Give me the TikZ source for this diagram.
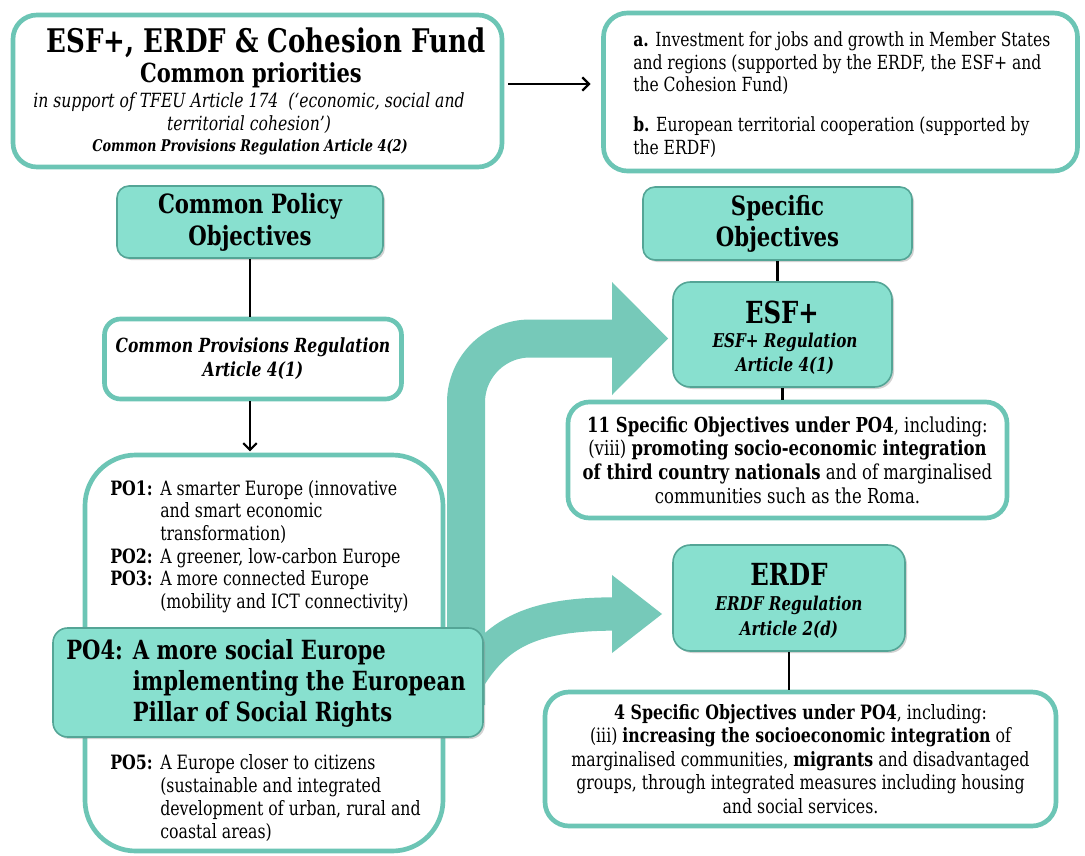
\documentclass[tikz,border=0pt]{standalone}
\usepackage{fontspec}
\setmainfont{DejaVu Serif}[FakeStretch=0.8]
\usetikzlibrary{arrows.meta,shadows}
\definecolor{tline}{RGB}{108,197,181}
\definecolor{tfill}{RGB}{136,224,207}
\definecolor{tdark}{RGB}{84,165,150}
\definecolor{afill}{RGB}{118,201,185}
\newcommand{\fs}[2]{\fontsize{#1}{#2}\selectfont}
\newcommand{\pl}[1]{\makebox[37.5pt][l]{\textbf{#1}}}
\newcommand{\pq}[1]{\makebox[50pt][l]{#1}}
\begin{document}
\begin{tikzpicture}[x=0.75pt,y=-0.75pt,
  sz/.style 2 args={minimum width={#1*0.75pt}, minimum height={#2*0.75pt}},
  wbox/.style={draw=tline, line width=3.5pt, fill=white, inner sep=0pt},
  tbox/.style={draw=tdark, line width=1.2pt, fill=tfill, inner sep=0pt,
    drop shadow={opacity=0.35, shadow xshift=1.5pt, shadow yshift=-1.5pt}},
  txt/.style={inner sep=0pt, align=center},
  ltxt/.style={inner sep=0pt, align=left, anchor=west},
  conn/.style={line width=1.6pt, draw=black},
  arr/.style={conn, -{Straight Barb[length=5pt,width=10pt,line width=1.6pt]}},
  band/.style={draw=afill, line cap=butt},
]
\fill[white] (0,0) rectangle (1085,856);
\useasboundingbox (0,0) rectangle (1085,856);

% top-left box
\node[wbox, sz={489}{152}, rounded corners=18pt] (TL) at (257.5,91) {};
\node[txt, font=\bfseries\fs{24.4}{28}] (tlT) at (266,43) {ESF+, ERDF \& Cohesion Fund};
\node[txt, font=\bfseries\fs{19.7}{22}] (tlC) at (251,75) {Common priorities};
\node[txt, font=\itshape\fs{14.65}{17.25}] (tlI) at (249,113.5) {in support of TFEU Article 174~~(‘economic, social and\\territorial cohesion’)};
\node[txt, font=\bfseries\itshape\fs{12.1}{14}] (tlR) at (250,147) {Common Provisions Regulation Article 4(2)};

% top-right box
\node[wbox, sz={474}{158}, rounded corners=18pt] (TR) at (840.5,92) {};
\node[ltxt, font=\fs{14.6}{17}] (trT) at (633,94.5) {\textbf{a.} Investment for jobs and growth in Member States\\and regions (supported by the ERDF, the ESF+ and\\the Cohesion Fund)\\[12.75pt]\textbf{b.} European territorial cooperation (supported by\\the ERDF)};

\coordinate (y84) at (0,84);
\draw[arr, shorten <=3pt, shorten >=8pt] (TL.east |- y84) -- (TR.west |- y84);

% left column
\node[tbox, sz={266}{72}, rounded corners=9pt, font=\bfseries\fs{19.9}{24}, align=center] (CPO) at (250,222) {Common Policy\\Objectives};
\node[wbox, sz={297}{80}, rounded corners=12pt, font=\bfseries\itshape\fs{14.6}{18}, align=center] (CPR) at (253,359) {Common Provisions Regulation\\Article 4(1)};
\node[wbox, sz={358}{396}, rounded corners=38pt] (POL) at (264,653) {};
\draw[conn] (CPO.south) -- (CPO.south |- CPR.north);
\draw[arr, shorten >=1pt] (CPO.south |- CPR.south) -- (CPO.south |- POL.north);

\node[ltxt, font=\fs{14.8}{17}] (po13) at (110,546.5) {\pl{PO1:}A smarter Europe (innovative\\\pl{}and smart economic\\\pl{}transformation)\\\pl{PO2:}A greener, low-carbon Europe\\\pl{PO3:}A more connected Europe\\\pl{}(mobility and ICT connectivity)};
\node[ltxt, font=\fs{14.8}{17.25}] (po5) at (110,798.5) {\pl{PO5:}A Europe closer to citizens\\\pl{}(sustainable and integrated\\\pl{}development of urban, rural and\\\pl{}coastal areas)};

% right column
\node[tbox, sz={269}{73}, rounded corners=9pt, font=\bfseries\fs{19.9}{23.25}, align=center] (SO) at (777.5,223.5) {Specific\\Objectives};
\node[tbox, sz={219}{105}, rounded corners=13pt] (ESF) at (782.5,334.5) {};
\node[txt, font=\bfseries\fs{22.8}{24}] (esfT) at (782,312) {ESF+};
\node[txt, font=\bfseries\itshape\fs{14.25}{18}] (esfR) at (785,354) {ESF+ Regulation\\Article 4(1)};
\node[wbox, sz={439}{116}, rounded corners=16pt, font=\fs{15.45}{17.8}, align=center] (SO11) at (787.5,460) {\textbf{11 Specific Objectives under PO4}, including:\\(viii) \textbf{promoting socio-economic integration}\\\textbf{of third country nationals} and of marginalised\\communities such as the Roma.};
\node[tbox, sz={232}{106}, rounded corners=13pt] (ERDF) at (789,598) {};
\node[txt, font=\bfseries\fs{22.8}{24}] (erdfT) at (789,574) {ERDF};
\node[txt, font=\bfseries\itshape\fs{14.25}{18.75}] (erdfR) at (789,617.5) {ERDF Regulation\\Article 2(d)};
\node[wbox, sz={511}{134}, rounded corners=18pt, font=\fs{14.8}{17.6}, align=center] (SO4) at (800.5,759) {\textbf{4 Specific Objectives under PO4}, including:\\(iii) \textbf{increasing the socioeconomic integration} of\\marginalised communities, \textbf{migrants} and disadvantaged\\groups, through integrated measures including housing\\and social services.};
\draw[conn] (SO.south) -- (SO.south |- ESF.north);
\draw[conn] (ESF.south) -- (ESF.south |- SO11.north);
\draw[conn] (ERDF.south) -- (ERDF.south |- SO4.north);

% big arrows
\coordinate (u0) at (466,705);
\coordinate (u1) at (614,338.5);
\draw[band, line width=28.5pt, rounded corners=48pt] (u0) |- (u1);
\fill[afill] (612,282) -- (668,338.5) -- (612,395) -- cycle;
\coordinate (l0) at (462,690);
\coordinate (l1) at (614,614);
\draw[band, line width=25pt] (l0) .. controls (490,640) and (520,614) .. (l1);
\fill[afill] (612,575) -- (662,614) -- (612,653) -- cycle;

% PO4 box
\node[tbox, sz={430}{109}, rounded corners=11pt] (PO4) at (268,682.5) {};
\node[ltxt, font=\bfseries\fs{19.8}{23.2}] (po4t) at (66,683) {\pq{PO4:}A more social Europe\\\pq{}implementing the European\\\pq{}Pillar of Social Rights};
\end{tikzpicture}
\end{document}
